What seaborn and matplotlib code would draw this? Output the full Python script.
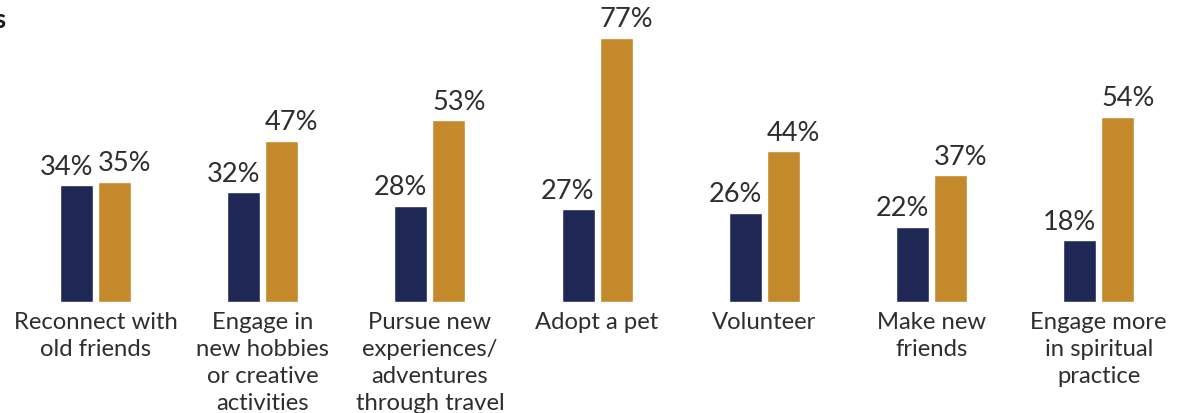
import matplotlib
matplotlib.use("Agg")
import matplotlib.pyplot as plt
import seaborn as sns
import pandas as pd

activities = [
    "Reconnect with\nold friends",
    "Engage in\nnew hobbies\nor creative\nactivities",
    "Pursue new\nexperiences/\nadventures\nthrough travel",
    "Adopt a pet",
    "Volunteer",
    "Make new\nfriends",
    "Engage more\nin spiritual\npractice",
]
have_done = [34, 32, 28, 27, 26, 22, 18]
plan_to_do = [35, 47, 53, 77, 44, 37, 54]
series_names = ["Have done", "Plan to do"]
series_colors = ["#1F2855", "#C3892B"]

df = pd.DataFrame({
    "activity": activities * 2,
    "series": [series_names[0]] * len(activities) + [series_names[1]] * len(activities),
    "pct": have_done + plan_to_do,
})

sns.set_theme(style="white")
plt.rcParams["font.family"] = ["Lato", "DejaVu Sans"]
text_color = "#2e2e2e"

fig = plt.figure(figsize=(11.82, 4.13), dpi=100)
ax = fig.add_axes([0.0, 0.2688, 1.0, 0.7312])

sns.barplot(
    data=df, x="activity", y="pct", hue="series",
    order=activities, hue_order=series_names,
    palette=series_colors, width=0.454, gap=0.133,
    saturation=1, legend=False, ax=ax, errorbar=None,
)

# value labels: left series flush with the bar's right edge,
# right series flush with the bar's left edge
for idx, container in enumerate(ax.containers):
    for bar, val in zip(container.patches, container.datavalues):
        if idx == 0:
            x, ha = bar.get_x() + bar.get_width(), "right"
        else:
            x, ha = bar.get_x(), "left"
        ax.annotate(f"{val:.0f}%", xy=(x, bar.get_height()),
                    xytext=(0, 4), textcoords="offset points",
                    ha=ha, va="bottom", fontsize=19.5, color=text_color)

ax.set_xlim(-0.571, 6.498)
ax.set_ylim(0, 88.05)
ax.set_xlabel("")
ax.set_ylabel("")
ax.set_yticks([])
ax.set_xticks(range(len(activities)))
ax.set_xticklabels(activities, fontsize=17.2, color=text_color,
                   linespacing=1.36, va="top")
ax.tick_params(axis="x", length=0, pad=7)
sns.despine(ax=ax, left=True, bottom=True)

# tail of the heading running in from the left edge
fig.text(6 / 1182, 1 - 28 / 413, "Activities", ha="right", va="baseline",
         fontsize=19, fontweight="bold", color="#1a1a1a")

fig.savefig("out.png", dpi=100)
